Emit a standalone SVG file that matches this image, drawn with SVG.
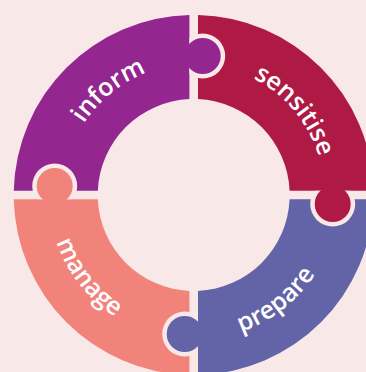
<svg xmlns="http://www.w3.org/2000/svg" width="366" height="372" viewBox="0 0 366 372">
  <style>
    .bg { fill: #F8E8E8; }
    .label { fill: #FFFFFF; font-family: "Open Sans", "Noto Sans", "DejaVu Sans", sans-serif; font-weight: 600; font-size: 25px; letter-spacing: 0px; }
  </style>
  <defs>
    <clipPath id="c1"><rect x="189.4" y="0" width="200" height="200"/></clipPath>
    <clipPath id="c2"><rect x="190" y="190.7" width="200" height="200"/></clipPath>
    <clipPath id="c3"><rect x="0" y="190" width="198" height="200"/></clipPath>
    <clipPath id="c4"><rect x="0" y="0" width="200" height="199.3"/></clipPath>
    <path id="pInform" d="M65.11,170.0 A131,131 0 0 1 195.99,64.02"/>
    <path id="pSensitise" d="M216.45,65.99 A131,131 0 0 1 324.7,195"/>
    <path id="pPrepare" d="M188.64,339.91 A145,145 0 0 0 335.53,225.15"/>
    <path id="pManage" d="M48.79,189.94 A145,145 0 0 0 163.55,336.83"/>
  </defs>
  <rect class="bg" x="0" y="0" width="366" height="372"/>

  <g id="inform">
    <path fill="#93278F" d="M189.4,15.05 A180,180 0 0 0 13.75,190.7 L97.8,190.7 A96,96 0 0 1 189.4,99.1 Z"/>
  </g>
  <g id="sensitise">
    <path fill="#AF1A45" d="M198,15.05 A180,180 0 0 1 373.65,190.7 L289.6,190.7 A96,96 0 0 0 198,99.1 Z"/>
  </g>
  <g id="prepare">
    <path fill="#6264A7" d="M373.65,199.3 A180,180 0 0 1 198,374.95 L198,290.9 A96,96 0 0 0 289.6,199.3 Z"/>
  </g>
  <g id="manage">
    <path fill="#F2837B" d="M189.4,374.95 A180,180 0 0 1 13.75,199.3 L97.8,199.3 A96,96 0 0 0 189.4,290.9 Z"/>
  </g>

  <g id="tabs">
    <circle class="bg" cx="202.7" cy="56" r="22.5" clip-path="url(#c1)"/>
    <circle fill="#93278F" cx="202.7" cy="56" r="18"/>
    <circle class="bg" cx="332.7" cy="204" r="22.5" clip-path="url(#c2)"/>
    <circle fill="#AF1A45" cx="332.7" cy="204" r="18"/>
    <circle class="bg" cx="184.7" cy="334" r="22.5" clip-path="url(#c3)"/>
    <circle fill="#6264A7" cx="184.7" cy="334" r="18"/>
    <circle class="bg" cx="54.7" cy="186" r="22.5" clip-path="url(#c4)"/>
    <circle fill="#F2837B" cx="54.7" cy="186" r="18"/>
  </g>

  <g id="labels">
    <text class="label" text-anchor="middle"><textPath href="#pInform" startOffset="50%">inform</textPath></text>
    <text class="label" text-anchor="middle"><textPath href="#pSensitise" startOffset="50%">sensitise</textPath></text>
    <text class="label" text-anchor="middle"><textPath href="#pPrepare" startOffset="50%">prepare</textPath></text>
    <text class="label" text-anchor="middle"><textPath href="#pManage" startOffset="50%">manage</textPath></text>
  </g>
</svg>
